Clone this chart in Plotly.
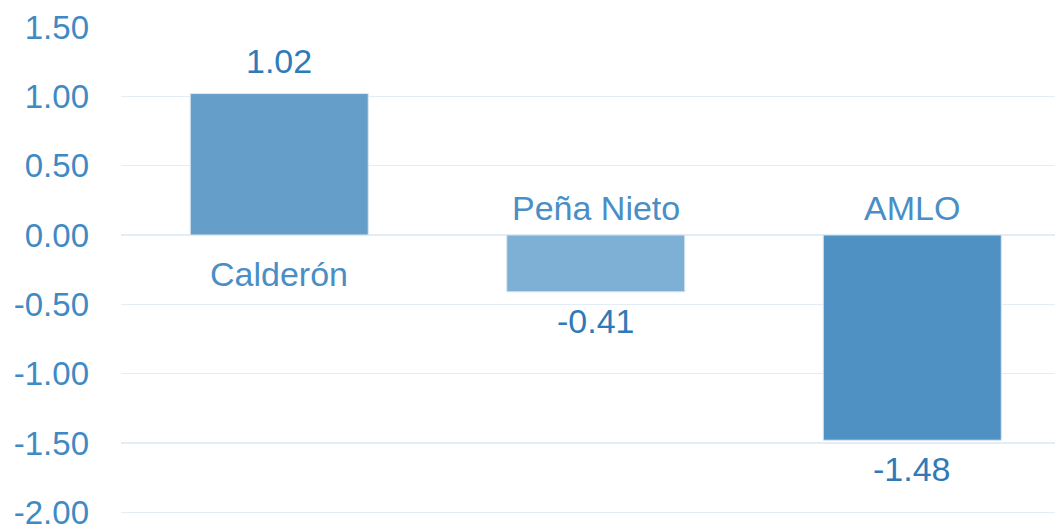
import plotly.graph_objects as go

categories = ["Calderón", "Peña Nieto", "AMLO"]
values = [1.02, -0.41, -1.48]
value_labels = ["1.02", "-0.41", "-1.48"]
tick_vals = [1.5, 1.0, 0.5, 0.0, -0.5, -1.0, -1.5, -2.0]
tick_text = ["1.50", "1.00", "0.50", "0.00", "-0.50", "-1.00", "-1.50", "-2.00"]
bar_colors = ["#659fc9", "#7eafd4", "#4f91c2"]

FONT = "Liberation Sans, Arial, sans-serif"
xpos = list(range(len(categories)))

fig = go.Figure()
fig.add_trace(go.Bar(
    x=xpos, y=values, width=0.5625,
    marker=dict(color=bar_colors, line=dict(color="#dbe8f3", width=1)),
    hoverinfo="skip", showlegend=False, cliponaxis=False,
))

annotations = []
for xi, v, lab, cat in zip(xpos, values, value_labels, categories):
    if v >= 0:
        annotations.append(dict(x=xi, y=v, text=lab, showarrow=False, yanchor="bottom",
                                yshift=12, font=dict(family=FONT, size=34, color="#2f7ab8")))
        annotations.append(dict(x=xi, y=0, text=cat, showarrow=False, yanchor="top",
                                yshift=-18, font=dict(family=FONT, size=34, color="#4a8ec6")))
    else:
        annotations.append(dict(x=xi, y=v, text=lab, showarrow=False, yanchor="top",
                                yshift=-8, font=dict(family=FONT, size=34, color="#2f7ab8")))
        annotations.append(dict(x=xi, y=0, text=cat, showarrow=False, yanchor="bottom",
                                yshift=6, font=dict(family=FONT, size=34, color="#4a8ec6")))

fig.update_layout(
    width=1055, height=525,
    margin=dict(l=121, r=0, t=27, b=11, autoexpand=False),
    paper_bgcolor="white", plot_bgcolor="white",
    annotations=annotations,
    xaxis=dict(range=[-0.5, 2.451], showticklabels=False, showgrid=False,
               zeroline=False, showline=False, fixedrange=True, automargin=False),
    yaxis=dict(range=[-2.012, 1.5], tickvals=tick_vals, ticktext=tick_text,
               showgrid=True, gridcolor="#e3edf6", gridwidth=1.5,
               zeroline=False, showline=False, ticks="", automargin=False,
               ticklabelstandoff=31, fixedrange=True, ticklabeloverflow="allow",
               tickfont=dict(family=FONT, size=33, color="#3f8ac4")),
)

fig.write_html(
    "out.html",
    config={"displayModeBar": False, "staticPlot": True},
    post_script="document.body.style.margin='0';document.body.style.overflow='hidden';",
)
